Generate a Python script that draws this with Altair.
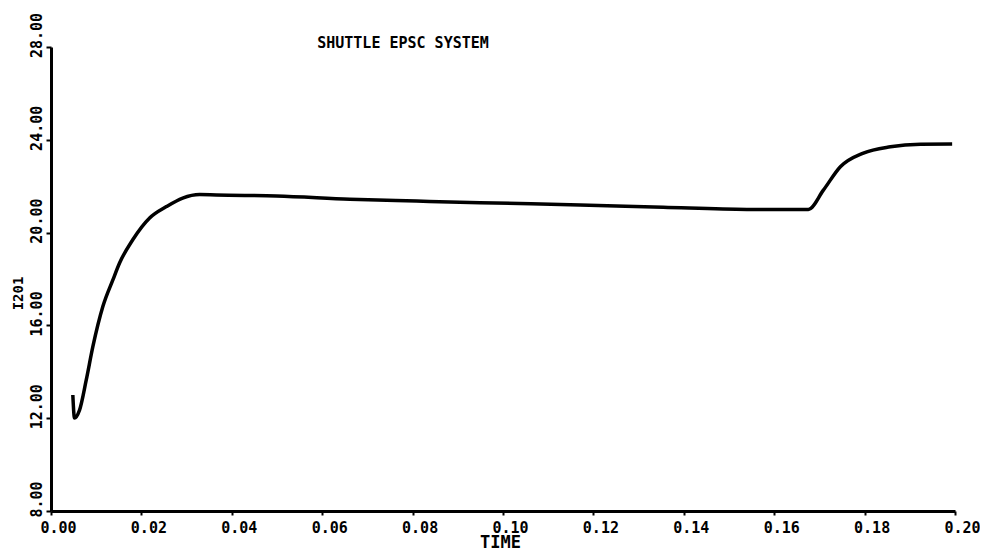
import altair as alt
import pandas as pd

time_vals = [0.00483, 0.00520, 0.00631, 0.00780, 0.00926, 0.01147, 0.01369, 0.01517,
             0.01805, 0.02182, 0.02552, 0.02913, 0.03289, 0.03659, 0.04988, 0.06611,
             0.08089, 0.09491, 0.11706, 0.13544, 0.15398, 0.16755, 0.17088, 0.17464,
             0.17973, 0.18571, 0.19236, 0.19937]
i201_vals = [13.00, 12.01, 12.35, 13.65, 15.08, 16.81, 17.96, 18.69,
             19.68, 20.63, 21.12, 21.49, 21.64, 21.62, 21.58, 21.44,
             21.36, 21.29, 21.19, 21.09, 21.00, 21.00, 21.83, 22.84,
             23.43, 23.70, 23.81, 23.82]
x_ticks = [0.00, 0.02, 0.04, 0.06, 0.08, 0.10, 0.12, 0.14, 0.16, 0.18, 0.20]
y_ticks = [8, 12, 16, 20, 24, 28]
chart_title = ["SHUTTLE EPSC SYSTEM"]

FONT = "DejaVu Sans Mono"

df = pd.DataFrame({"TIME": time_vals, "I201": i201_vals})
tdf = pd.DataFrame({"label": chart_title})

line = alt.Chart(df).mark_line(color="black", strokeWidth=3.5, interpolate="monotone").encode(
    x=alt.X("TIME:Q",
            scale=alt.Scale(domain=[0, 0.2], nice=False, zero=False),
            axis=alt.Axis(values=x_ticks, format=".2f", title="TIME", grid=False,
                          domainColor="black", domainWidth=3, tickColor="black", tickWidth=2,
                          tickSize=4, labelPadding=5, labelOffset=7, labelFont=FONT,
                          labelFontSize=15, labelFontWeight="bold", labelColor="black",
                          labelOverlap=False, labelBound=False, labelFlush=False,
                          titleFont=FONT, titleFontSize=17, titleFontWeight="bold",
                          titleColor="black", titleX=449, titleY=31,
                          titleAlign="center", titleBaseline="middle")),
    y=alt.Y("I201:Q",
            scale=alt.Scale(domain=[8, 28], nice=False, zero=False),
            axis=alt.Axis(values=y_ticks, format=".2f", title="I201", grid=False,
                          domainColor="black", domainWidth=3, tickColor="black", tickWidth=2,
                          tickSize=5, labelPadding=10, labelOffset=-12, labelAngle=270,
                          labelAlign="center", labelBaseline="middle", labelFont=FONT,
                          labelFontSize=15, labelFontWeight="bold", labelColor="black",
                          labelOverlap=False, labelBound=False, labelFlush=False,
                          titleFont=FONT, titleFontSize=14, titleFontWeight="bold",
                          titleColor="black", titleAngle=270, titleX=-33, titleY=246,
                          titleAlign="center", titleBaseline="middle")),
)

title = alt.Chart(tdf).mark_text(font=FONT, fontSize=15, fontWeight="bold", color="black",
                                 align="center", baseline="middle").encode(
    text="label:N", x=alt.value(352), y=alt.value(-4.5)
)

chart = alt.layer(line, title).properties(
    width=904, height=464,
    autosize=alt.AutoSizeParams(type="none"),
    padding={"left": 43, "top": 39, "right": 25, "bottom": 40},
    background="white",
).configure_view(stroke=None)

chart.save("out.html", embed_options={"renderer": "svg", "actions": False})
